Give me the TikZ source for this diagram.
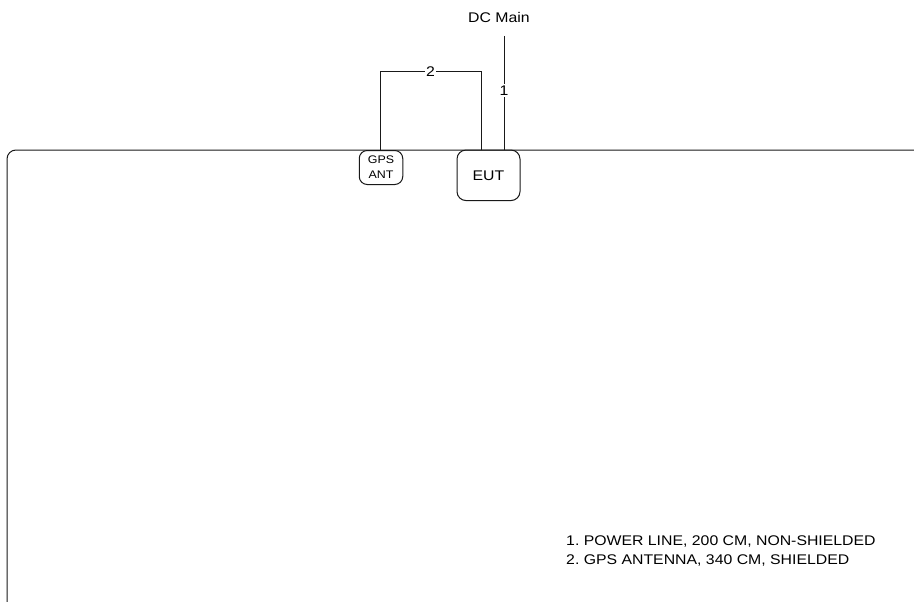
\documentclass[tikz,border=0pt]{standalone}
\usepackage{fontspec}
\setmainfont{Liberation Sans}[FakeStretch=1.13]
\frenchspacing
\begin{document}
\begin{tikzpicture}[x=1pt,y=-1pt,
  line/.style={draw=black!90,line width=1pt},
  devbox/.style={draw=black!90,line width=1pt,rounded corners=9pt,align=center,inner sep=0pt},
  lbl/.style={fill=white,inner sep=1.5pt,font=\fontsize{14}{16}\selectfont}]
\useasboundingbox (0,0) rectangle (914,602);
% table edge
\draw[line,rounded corners=9pt] (7,602) -- (7,150) -- (914,150);
% devices
\node[devbox,minimum width=63pt,minimum height=50.5pt,font=\fontsize{14}{16}\selectfont] (eut) at (488.5,175.3) {EUT};
\node[devbox,minimum width=43.5pt,minimum height=34pt,rounded corners=8pt,font=\fontsize{11}{15}\selectfont] (gps) at (381,167.5) {GPS\\ANT};
% DC Main
\node[font=\fontsize{14}{16}\selectfont,inner sep=1pt] (dc) at (499,17) {DC Main};
\coordinate (dcend) at (504,36);
% cable 1
\draw[line] (dcend) -- node[lbl,pos=0.48] {1} (eut.north -| dcend);
% cable 2
\coordinate (c2) at (481,72);
\draw[line] (gps.north -| 380,0) |- node[lbl,pos=0.75] {2} (c2) -- (eut.north -| c2);
% legend
\node[anchor=north west,align=left,inner sep=0pt,font=\fontsize{14}{19}\selectfont] (legend) at (566,536) {1. POWER LINE, 200 CM, NON-SHIELDED\\2. GPS ANTENNA, 340 CM, SHIELDED};
\end{tikzpicture}
\end{document}
